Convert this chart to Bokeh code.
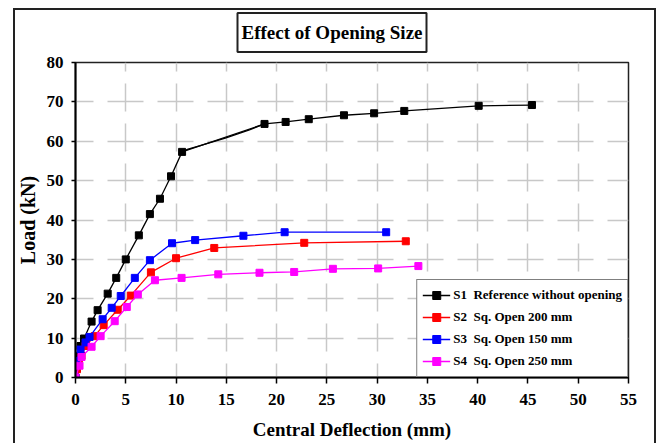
from bokeh.plotting import figure
from bokeh.models import Legend, LegendItem, Title, FixedTicker, Range1d, InlineStyleSheet
from bokeh.embed import file_html
from bokeh.resources import INLINE

# ---------------- data ----------------
title_text = "Effect of Opening Size"
x_label = "Central Deflection (mm)"
y_label = "Load (kN)"
x_ticks = [0, 5, 10, 15, 20, 25, 30, 35, 40, 45, 50, 55]
y_ticks = [0, 10, 20, 30, 40, 50, 60, 70, 80]

series_names = ["S1  Reference without opening", "S2  Sq. Open 200 mm",
                "S3  Sq. Open 150 mm", "S4  Sq. Open 250 mm"]
series_colors = ["#000000", "#ff0000", "#0000ff", "#ff00ff"]

s1_x = [0, 0.15, 0.3, 0.5, 0.85, 1.6, 2.2, 3.2, 4.05, 5.0, 6.3, 7.4, 8.4, 9.5, 10.6,
        18.8, 20.9, 23.2, 26.7, 29.7, 32.7, 40.1, 45.4]
s1_y = [0, 3.0, 5.5, 8.0, 9.9, 14.2, 17.1, 21.3, 25.3, 30.0, 36.1, 41.5, 45.4, 51.1, 57.3,
        64.4, 64.9, 65.6, 66.6, 67.1, 67.7, 69.0, 69.2]
# S1 curve readings between the marked points (no markers drawn there)
s1_curve_x = [10.6, 11.2, 12.4, 14.9, 17.3, 18.8]
s1_curve_y = [57.3, 58.0, 58.9, 60.8, 62.9, 64.4]

s2_x = [0, 0.15, 0.35, 0.6, 1.0, 1.9, 2.8, 4.2, 5.5, 7.5, 10.0, 13.8, 22.75, 32.85]
s2_y = [0, 2.1, 3.8, 5.5, 8.0, 10.5, 13.3, 17.2, 20.8, 26.7, 30.3, 32.9, 34.2, 34.6]

s3_x = [0, 0.1, 0.5, 1.0, 1.4, 2.7, 3.6, 4.5, 5.9, 7.4, 9.6, 11.9, 16.7, 20.8, 30.9]
s3_y = [0, 4.2, 7.1, 8.9, 10.3, 14.8, 17.7, 20.7, 25.3, 29.8, 34.1, 34.9, 36.0, 36.9, 36.9]

s4_x = [0, 0.4, 0.6, 1.6, 2.5, 3.9, 5.1, 6.2, 7.9, 10.55, 14.2, 18.3, 21.75, 25.6, 30.1, 34.1]
s4_y = [0, 3.0, 5.2, 7.8, 10.5, 14.3, 17.9, 21.1, 24.7, 25.3, 26.2, 26.6, 26.8, 27.6, 27.7, 28.3]

# ---------------- figure ----------------
SERIF = "Liberation Serif"

frame_css = InlineStyleSheet(css="""
:host::after {
  content: "";
  position: absolute;
  left: 13px; top: 8px; width: 643px; height: 435px;
  box-sizing: border-box;
  border: 2px solid #222222; border-bottom: none;
  pointer-events: none; z-index: 10;
}
""")

p = figure(width=664, height=443, output_backend="svg", toolbar_location=None,
           x_range=Range1d(0, 55), y_range=Range1d(0, 80),
           min_border_left=75, min_border_right=36, min_border_top=62, min_border_bottom=66,
           stylesheets=[frame_css])
p.background_fill_color = "white"
p.border_fill_color = "white"
p.outline_line_color = "#222222"
p.outline_line_width = 1.5

for ax in (p.xaxis[0], p.yaxis[0]):
    ax.axis_line_color = "black"
    ax.axis_line_width = 2
    ax.major_tick_line_color = "black"
    ax.major_tick_line_width = 1.5
    ax.minor_tick_line_color = None
    ax.major_tick_in = 0
    ax.major_label_text_font = SERIF
    ax.major_label_text_font_style = "bold"
    ax.major_label_text_font_size = "17px"
    ax.major_label_text_color = "black"
    ax.axis_label_text_font = SERIF
    ax.axis_label_text_font_style = "bold"
    ax.axis_label_text_color = "black"

p.xaxis.ticker = FixedTicker(ticks=x_ticks)
p.yaxis.ticker = FixedTicker(ticks=y_ticks)
p.xaxis.axis_label = x_label
p.yaxis.axis_label = y_label
p.xaxis.axis_label_text_font_size = "19px"
p.yaxis.axis_label_text_font_size = "20px"
p.xaxis.major_tick_out = 6
p.xaxis.major_label_standoff = 10
p.xaxis.axis_label_standoff = 11
p.yaxis.major_tick_out = 4
p.yaxis.major_label_standoff = 8
p.yaxis.axis_label_standoff = 5

p.xgrid.ticker = FixedTicker(ticks=x_ticks)
p.ygrid.ticker = FixedTicker(ticks=y_ticks)
p.xgrid.grid_line_color = "#c8c8c8"
p.ygrid.grid_line_color = "#c8c8c8"
p.xgrid.grid_line_width = 1.5
p.ygrid.grid_line_width = 1.5
p.xgrid.grid_line_dash = "28 12"
p.xgrid.grid_line_dash_offset = 14
p.ygrid.grid_line_dash = "36 14"
p.ygrid.grid_line_dash_offset = 18

# ---------------- series ----------------
items = []
data = [(s1_x, s1_y), (s2_x, s2_y), (s3_x, s3_y), (s4_x, s4_y)]
p.line(s1_curve_x, s1_curve_y, color=series_colors[0], line_width=1.3)
for (xs, ys), name, col in zip(data, series_names, series_colors):
    r_line = p.line(xs, ys, color=col, line_width=1.3)
    r_mark = p.scatter(xs, ys, marker="square", size=7, fill_color=col, line_color=col)
    items.append(LegendItem(label=name, renderers=[r_line, r_mark]))

legend = Legend(items=items, location="bottom_right", margin=0,
                border_line_color="black", border_line_width=1.5,
                background_fill_color="white", background_fill_alpha=1.0,
                label_text_font=SERIF, label_text_font_style="bold",
                label_text_font_size="13px", label_text_color="black",
                glyph_width=28, glyph_height=20, label_height=20,
                label_standoff=3, spacing=2, padding=5)
p.add_layout(legend)

# ---------------- boxed title ----------------
title = Title(text=title_text, align="left", offset=162, standoff=21,
              text_font=SERIF, text_font_style="bold", text_font_size="19px",
              text_color="black",
              border_line_color="#222222", border_line_width=2,
              background_fill_color="white",
              padding=dict(left=4, right=4, top=9, bottom=9))
p.add_layout(title, "above")

open("out.html", "w").write(file_html(p, INLINE))
